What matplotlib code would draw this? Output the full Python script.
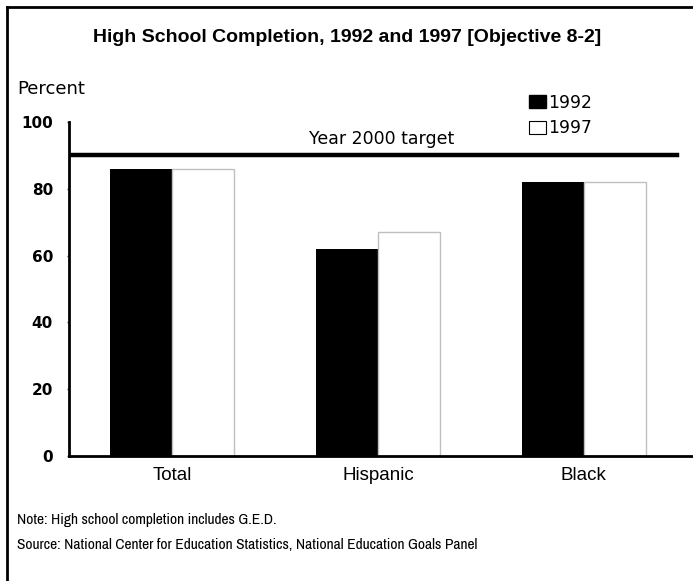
import matplotlib
matplotlib.use("Agg")
import matplotlib.pyplot as plt
import numpy as np
from matplotlib.patches import Patch
from matplotlib.lines import Line2D

categories = ["Total", "Hispanic", "Black"]
years = ["1992", "1997"]
values_1992 = [86, 62, 82]
values_1997 = [86, 67, 82]
target = 90
yticks = [0, 20, 40, 60, 80, 100]

narrow = ["Archivo Narrow", "Liberation Sans", "DejaVu Sans"]
title_font = ["Liberation Sans", "DejaVu Sans"]
wide = ["DejaVu Sans"]

W, H = 693, 581
fig = plt.figure(figsize=(W / 100, H / 100), dpi=100)

def px(x0, y0, x1, y1):
    return [x0 / W, 1 - y1 / H, (x1 - x0) / W, (y1 - y0) / H]

ax = fig.add_axes(px(69, 122, 693, 456))
x = np.arange(len(categories))
bw = 0.30
ax.bar(x - bw / 2, values_1992, bw, color="black", edgecolor="black", linewidth=0)
ax.bar(x + bw / 2, values_1997, bw, color="white", edgecolor="#c0c0c0", linewidth=1.0)
ax.set_xlim(-0.5, 2.53)
ax.set_ylim(0, 100)

ax.axhline(target, xmin=0.005, xmax=0.975, color="black", linewidth=3.2)
ax.text(1.02, target + 2.2, "Year 2000 target", ha="center", va="bottom",
        fontsize=12.5, family=wide)

for s in ["top", "right"]:
    ax.spines[s].set_visible(False)
ax.spines["left"].set_linewidth(2)
ax.spines["bottom"].set_linewidth(2)
ax.set_yticks(yticks)
ax.set_yticklabels([str(v) for v in yticks], fontsize=11, fontweight="bold", family=wide)
ax.tick_params(axis="y", length=1.5, width=1, pad=10, color="#444444")
ax.set_xticks(x)
ax.set_xticklabels(categories, fontsize=13.5, family=["Liberation Sans"])
ax.tick_params(axis="x", length=0, pad=8)

handles = [Patch(facecolor="black", edgecolor="black", label=years[0]),
           Patch(facecolor="white", edgecolor="black", linewidth=0.8, label=years[1])]
fig.legend(handles=handles, loc="upper left", bbox_to_anchor=(520 / W, 1 - 85 / H),
           frameon=False, handlelength=1.0, handleheight=0.8,
           handletextpad=0.15, labelspacing=0.45, borderpad=0,
           prop={"family": wide, "size": 12.3})

fig.text(347 / W, 1 - 37 / H, "High School Completion, 1992 and 1997 [Objective 8-2]",
         ha="center", va="center", fontsize=14, fontweight="bold", family=title_font)
fig.text(17 / W, 1 - 89 / H, "Percent", ha="left", va="center", fontsize=13,
         family=wide)
fig.text(17 / W, 1 - 520 / H, "Note: High school completion includes G.E.D.",
         ha="left", va="center", fontsize=11.2, family=narrow)
fig.text(17 / W, 1 - 545 / H,
         "Source: National Center for Education Statistics, National Education Goals Panel",
         ha="left", va="center", fontsize=11.2, family=narrow)

fig.add_artist(Line2D([7 / W, 7 / W], [0, 1 - 7 / H], color="black", linewidth=2))
fig.add_artist(Line2D([7 / W, 1], [1 - 7 / H, 1 - 7 / H], color="black", linewidth=2))

fig.savefig("out.png", dpi=100)
